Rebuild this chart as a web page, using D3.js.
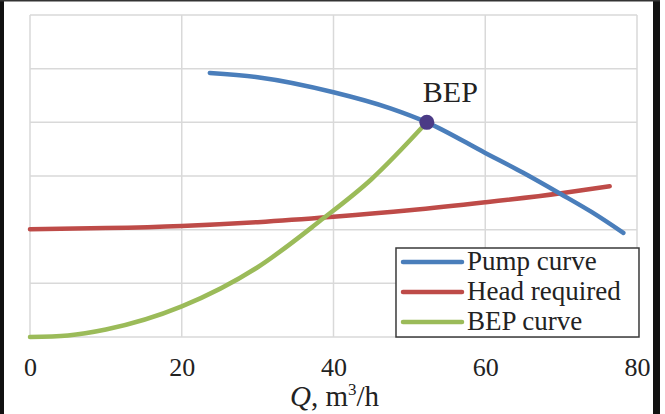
<!DOCTYPE html>
<html>
<head>
<meta charset="utf-8">
<script src="https://cdn.jsdelivr.net/npm/d3@7"></script>
<style>
    html, body { margin: 0; padding: 0; background: #fff; }
    #chart { width: 665px; height: 414px; }
    text { font-family: "Liberation Serif", "DejaVu Serif", serif; fill: #222; }
</style>
</head>
<body>
<div id="chart"></div>
<script>
//Datos
const xTicks = [0, 20, 40, 60, 80];
const yTicks = [0, 10, 20, 30, 40, 50, 60];

const pumpQ = [23.7, 30, 40, 47.5, 52.3, 60, 65, 70, 74, 78.2];
const pumpH = [49.2, 48.4, 45.6, 42.6, 40.0, 34.3, 30.6, 26.6, 23.3, 19.4];

const headQ = [0, 10, 20, 30, 40, 50, 60, 70, 76.4];
const headH = [20.1, 20.3, 20.7, 21.4, 22.4, 23.6, 25.1, 26.8, 28.1];

const bepQ = [0, 5, 10, 20, 30, 38.2, 45, 52.3];
const bepH = [0, 0.3, 1.4, 5.7, 13.0, 21.6, 29.4, 40.0];

const bepPoint = [52.3, 40.0];

const seriesNames = ['Pump curve', 'Head required', 'BEP curve'];

//Colores fijos
const COLOR_PUMP = '#4a7ebb',
COLOR_HEAD = '#be4b48',
COLOR_BEP = '#9bbb59',
COLOR_DOT = '#4b3b86',
COLOR_GRID = '#d9d9d9';

let margin = {top: 15, right: 28, bottom: 77, left: 30},
    width = 665 - margin.left - margin.right,
    height = 414 - margin.top - margin.bottom;

let root = d3.select('#chart')
    .append('svg')
        .attr('width', 665)
        .attr('height', 414);

let svg = root.append('g')
    .attr('transform', 'translate(' + margin.left + ',' + margin.top + ')');

let x = d3.scaleLinear()
    .domain([0, 80])
    .range([0, width]);

let y = d3.scaleLinear()
    .domain([0, 60])
    .range([height, 0]);

//Rejilla
svg.append('g')
    .selectAll('line')
    .data(yTicks)
    .enter()
    .append('line')
    .attr('x1', 0)
    .attr('x2', width)
    .attr('y1', function(d) { return y(d); })
    .attr('y2', function(d) { return y(d); })
    .attr('stroke', COLOR_GRID)
    .attr('stroke-width', 1.5);

svg.append('g')
    .selectAll('line')
    .data(xTicks)
    .enter()
    .append('line')
    .attr('x1', function(d) { return x(d); })
    .attr('x2', function(d) { return x(d); })
    .attr('y1', 0)
    .attr('y2', height)
    .attr('stroke', COLOR_GRID)
    .attr('stroke-width', 1.5);

//Eje X
let xAxis = function(g) {
    g.call(d3.axisBottom(x).tickValues(xTicks).tickSize(0).tickPadding(21));
    g.select('.domain').remove();
    g.selectAll('.tick text')
        .attr('font-size', '26px')
        .attr('font-family', '"Liberation Serif", serif')
        .attr('fill', '#222');
}

svg.append('g')
    .attr('transform', 'translate(0,' + height + ')')
    .call(xAxis);

let title = svg.append('text')
    .attr('x', width / 2 + 1)
    .attr('y', height + 69)
    .attr('text-anchor', 'middle')
    .attr('font-size', '29px');
title.append('tspan').attr('font-style', 'italic').text('Q');
title.append('tspan').text(', m');
title.append('tspan').attr('font-size', '17px').attr('dy', -11).text('3');
title.append('tspan').attr('dy', 11).text('/h');

//Curvas
let line = d3.line()
    .x(function(d) { return x(d[0]); })
    .y(function(d) { return y(d[1]); })
    .curve(d3.curveMonotoneX);

let series = [
    {name: seriesNames[0], color: COLOR_PUMP, values: d3.zip(pumpQ, pumpH)},
    {name: seriesNames[1], color: COLOR_HEAD, values: d3.zip(headQ, headH)},
    {name: seriesNames[2], color: COLOR_BEP, values: d3.zip(bepQ, bepH)}
];

//Orden de dibujo: roja, verde, azul
[1, 2, 0].forEach(function(i) {
    svg.append('path')
        .datum(series[i].values)
        .attr('fill', 'none')
        .attr('stroke', series[i].color)
        .attr('stroke-width', 4.5)
        .attr('stroke-linecap', 'round')
        .attr('d', line);
});

svg.append('circle')
    .attr('cx', x(bepPoint[0]))
    .attr('cy', y(bepPoint[1]))
    .attr('r', 7.5)
    .attr('fill', COLOR_DOT);

svg.append('text')
    .attr('x', x(bepPoint[0]) - 4)
    .attr('y', y(bepPoint[1]) - 20)
    .attr('font-size', '30px')
    .text('BEP');

//Leyenda
let legend = svg.append('g')
    .attr('transform', 'translate(' + (x(48.5) - 2) + ',' + (y(0) - 89) + ')');

legend.append('rect')
    .attr('x', 0)
    .attr('y', 0)
    .attr('width', 243)
    .attr('height', 89)
    .attr('fill', '#fff')
    .attr('stroke', '#3a3a3a')
    .attr('stroke-width', 1.5);

series.forEach(function(s, i) {
    let yy = 14 + i * 30;
    legend.append('line')
        .attr('x1', 7)
        .attr('x2', 66)
        .attr('y1', yy)
        .attr('y2', yy)
        .attr('stroke', s.color)
        .attr('stroke-width', 4.5)
        .attr('stroke-linecap', 'round');
    legend.append('text')
        .attr('x', 71)
        .attr('y', yy + 8)
        .attr('font-size', '27px')
        .text(s.name);
});

//Bordes negros del recorte
root.append('rect').attr('x', 0).attr('y', 0).attr('width', 4).attr('height', 414).attr('fill', '#111');
root.append('rect').attr('x', 653).attr('y', 0).attr('width', 7).attr('height', 414).attr('fill', '#111');
root.append('rect').attr('x', 0).attr('y', 0).attr('width', 660).attr('height', 1.5).attr('fill', '#333');
</script>
</body>
</html>
